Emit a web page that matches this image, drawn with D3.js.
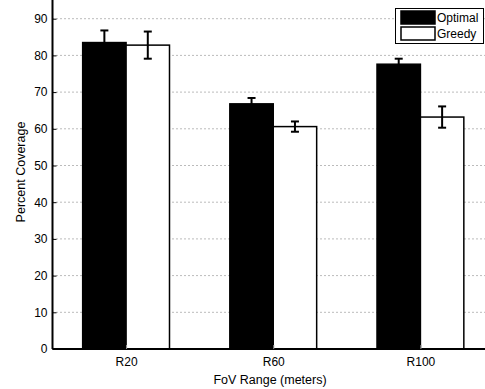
<!DOCTYPE html>
<html>
<head>
<meta charset="utf-8">
<script src="https://cdn.jsdelivr.net/npm/d3@7"></script>
<style>
  body { margin: 0; background: #fff; }
  svg { display: block; font-family: "Liberation Sans", Arial, sans-serif; }
</style>
</head>
<body>
<div id="chart"></div>
<script>
const categories = ['R20', 'R60', 'R100'];
const series = ['Optimal', 'Greedy'];
const optimal = [83.5, 66.8, 77.6];
const optimalErr = [3.3, 1.6, 1.5];
const greedy = [82.8, 60.6, 63.2];
const greedyErr = [3.7, 1.4, 2.9];
const yTicks = [0, 10, 20, 30, 40, 50, 60, 70, 80, 90];

const width = 485, height = 389;

const svg = d3.select('#chart')
  .append('svg')
  .attr('width', width)
  .attr('height', height);

// x in group index units, the plot box runs past the right edge of the picture
const x = d3.scaleLinear().domain([0.5, 3.5]).range([52.5, 494]);
const y = d3.scaleLinear().domain([0, 100]).range([349, -18]);
const barW = 0.295;

// dotted grid
svg.append('g')
  .selectAll('line')
  .data(yTicks.filter(d => d > 0))
  .enter()
  .append('line')
  .attr('x1', x(0.5)).attr('x2', width)
  .attr('y1', d => y(d)).attr('y2', d => y(d))
  .attr('stroke', '#777')
  .attr('stroke-width', 1)
  .attr('stroke-dasharray', '1,3');

const rows = categories.map((c, i) => [
  { cat: i + 1, v: optimal[i], e: optimalErr[i], k: 0 },
  { cat: i + 1, v: greedy[i], e: greedyErr[i], k: 1 }
]).flat();

svg.append('g')
  .selectAll('rect')
  .data(rows)
  .enter()
  .append('rect')
  .attr('x', d => x(d.cat - barW + d.k * barW))
  .attr('width', x(barW) - x(0))
  .attr('y', d => y(d.v))
  .attr('height', d => y(0) - y(d.v))
  .attr('fill', d => d.k === 0 ? '#000' : '#fff')
  .attr('stroke', '#000')
  .attr('stroke-width', 1.5);

// error bars
const err = svg.append('g').attr('stroke', '#000').attr('stroke-width', 2);
rows.forEach(d => {
  const cx = x(d.cat - barW / 2 + d.k * barW);
  err.append('line').attr('x1', cx).attr('x2', cx).attr('y1', y(d.v + d.e)).attr('y2', y(d.v - d.e));
  [d.v + d.e, d.v - d.e].forEach(t => {
    err.append('line').attr('x1', cx - 4).attr('x2', cx + 4).attr('y1', y(t)).attr('y2', y(t));
  });
});

// axes
const yAxis = svg.append('g')
  .attr('transform', `translate(${x(0.5)},0)`)
  .call(d3.axisLeft(y).tickValues(yTicks).tickSize(-4).tickPadding(5).tickFormat(d3.format('d')));
yAxis.select('.domain').attr('stroke-width', 2).attr('d', `M0,${y(0)}V-20`);
yAxis.selectAll('.tick line').attr('stroke', '#000');
yAxis.selectAll('text').attr('font-size', 12).attr('fill', '#000');

const xAxis = svg.append('g')
  .attr('transform', `translate(0,${y(0)})`)
  .call(d3.axisBottom(x).tickValues([1, 2, 3]).tickSize(-4).tickPadding(8).tickFormat(d => categories[d - 1]));
xAxis.select('.domain').attr('stroke-width', 2).attr('d', `M${x(0.5)},0H${width + 5}`);
xAxis.selectAll('.tick line').attr('stroke', '#999');
xAxis.selectAll('text').attr('font-size', 12).attr('fill', '#000');

svg.append('text')
  .attr('x', 270).attr('y', 384)
  .attr('text-anchor', 'middle')
  .attr('font-size', 12.5)
  .text('FoV Range (meters)');

svg.append('text')
  .attr('transform', 'translate(25,172) rotate(-90)')
  .attr('text-anchor', 'middle')
  .attr('font-size', 12.5)
  .text('Percent Coverage');

// legend
const lg = svg.append('g');
lg.append('rect')
  .attr('x', 395.5).attr('y', 8.5).attr('width', 88).attr('height', 35)
  .attr('fill', '#fff').attr('stroke', '#000').attr('stroke-width', 1);
series.forEach((s, i) => {
  lg.append('rect')
    .attr('x', 401).attr('y', 11 + i * 16).attr('width', 34).attr('height', 13)
    .attr('fill', i === 0 ? '#000' : '#fff')
    .attr('stroke', '#000').attr('stroke-width', 1.5);
  lg.append('text')
    .attr('x', 437).attr('y', 22 + i * 16)
    .attr('font-size', 12)
    .text(s);
});
</script>
</body>
</html>
